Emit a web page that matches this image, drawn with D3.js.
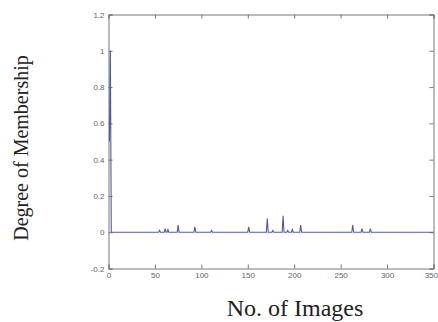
<!DOCTYPE html>
<html>
<head>
<meta charset="utf-8">
<script src="https://cdn.jsdelivr.net/npm/d3@7"></script>
<style>
  body { margin: 0; background: #fff; }
  svg { display: block; }
</style>
</head>
<body>
<svg id="chart" width="438" height="322"></svg>
<script>
// image number / membership degree (0 between peaks)
const imageNo = [1, 2, 3, 54, 55, 56, 60, 61, 62, 63, 64, 65, 74, 75, 76, 92, 93, 94, 110, 111, 112,
  150, 151, 152, 170, 171, 172, 176, 177, 178, 187, 188, 189, 192, 193, 194, 197, 198, 199, 206, 207, 208,
  262, 263, 264, 272, 273, 274, 281, 282, 283, 350];
const membership = [0.5, 1, 0, 0, 0.01, 0, 0, 0.02, 0, 0, 0.015, 0, 0, 0.04, 0, 0, 0.03, 0, 0, 0.01, 0,
  0, 0.03, 0, 0, 0.075, 0, 0, 0.01, 0, 0, 0.09, 0, 0, 0.01, 0, 0, 0.015, 0, 0, 0.04, 0,
  0, 0.04, 0, 0, 0.02, 0, 0, 0.02, 0, 0];
const xTicks = [0, 50, 100, 150, 200, 250, 300, 350];
const yTicks = [-0.2, 0, 0.2, 0.4, 0.6, 0.8, 1, 1.2];

const svg = d3.select('#chart');
const plotLeft = 108.5, plotRight = 433.5, plotTop = 14.5, plotBottom = 268.5;

const x = d3.scaleLinear().domain([0, 350]).range([plotLeft, plotRight]);
const y = d3.scaleLinear().domain([-0.2, 1.2]).range([plotBottom, plotTop]);

const axisColor = '#777';
const tickFont = '8px "Liberation Sans", Arial, sans-serif';

// bottom / top axes (ticks pointing inside)
const gx = svg.append('g').attr('transform', 'translate(0,' + plotBottom + ')')
  .call(d3.axisBottom(x).tickValues(xTicks).tickSize(-4).tickPadding(4).tickFormat(d3.format('d')));
// last label sits at the window edge, keep it inside
gx.selectAll('.tick text').filter(d => d === 350).attr('text-anchor', 'end').attr('dx', 4);
svg.append('g').attr('transform', 'translate(0,' + plotTop + ')')
  .call(d3.axisTop(x).tickValues(xTicks).tickSize(-4).tickFormat(''));

// left / right axes
svg.append('g').attr('transform', 'translate(' + plotLeft + ',0)')
  .call(d3.axisLeft(y).tickValues(yTicks).tickSize(-4).tickPadding(4).tickFormat(d => String(+d.toFixed(1))));
svg.append('g').attr('transform', 'translate(' + plotRight + ',0)')
  .call(d3.axisRight(y).tickValues(yTicks).tickSize(-4).tickFormat(''));

svg.selectAll('.domain').attr('stroke', axisColor);
svg.selectAll('.tick line').attr('stroke', axisColor);
svg.selectAll('.tick text').attr('fill', '#666').style('font', tickFont);

// series
const line = d3.line()
  .x((d, i) => x(imageNo[i]))
  .y(d => y(d));

svg.append('path')
  .datum(membership)
  .attr('d', line)
  .attr('fill', 'none')
  .attr('stroke', '#5558a2')
  .attr('stroke-width', 1.1);

// axis titles
svg.append('text')
  .attr('transform', 'translate(28,148) rotate(-90)')
  .attr('text-anchor', 'middle')
  .style('font', '20px "Liberation Serif", "Times New Roman", serif')
  .attr('fill', '#222')
  .text('Degree of Membership');

svg.append('text')
  .attr('x', 295)
  .attr('y', 316)
  .attr('text-anchor', 'middle')
  .style('font', '24px "Liberation Serif", "Times New Roman", serif')
  .attr('fill', '#222')
  .text('No. of Images');
</script>
</body>
</html>
